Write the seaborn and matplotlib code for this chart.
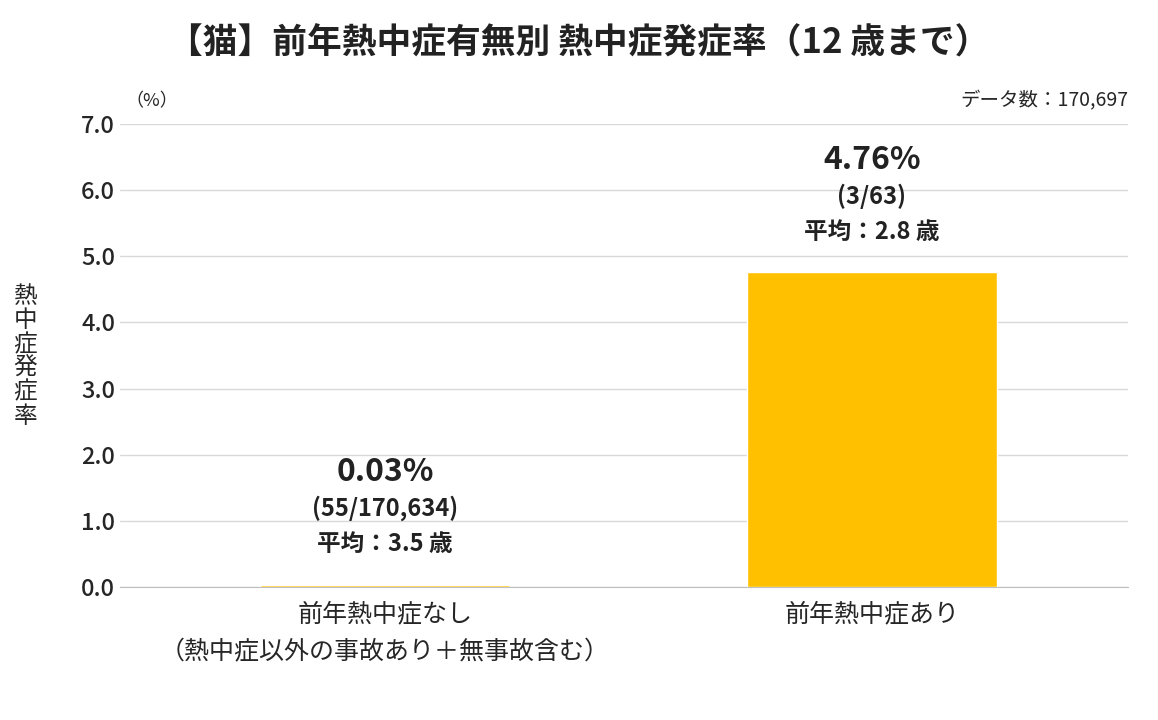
import matplotlib
matplotlib.use("Agg")
import matplotlib.pyplot as plt
import seaborn as sns
import pandas as pd

categories = ["前年熱中症なし\n（熱中症以外の事故あり＋無事故含む）", "前年熱中症あり"]
rates = [0.03, 4.76]
counts = ["(55/170,634)", "(3/63)"]
mean_age = ["平均：3.5 歳", "平均：2.8 歳"]

sns.set_style("white")
plt.rcParams['font.family'] = ['Noto Sans CJK JP', 'DejaVu Sans']

df = pd.DataFrame({"cat": categories, "rate": rates})

fig = plt.figure(figsize=(11.58, 7.2), dpi=100)
ax = fig.add_axes([0.1036, 0.1847, 0.8705, 0.6431])
sns.barplot(data=df, x="cat", y="rate", color="#FFC000", saturation=1, width=0.513, ax=ax, zorder=3)

ax.set_ylim(0, 7)
ax.set_xlim(-0.544, 1.526)
ax.set_yticks([i * 1.0 for i in range(8)])
ax.set_yticklabels([f"{i:.1f}" for i in range(8)], fontsize=17, fontweight="medium")
ax.tick_params(axis="x", labelsize=18, length=0, pad=10)
for t in ax.get_xticklabels():
    t.set_linespacing(1.6)
ax.tick_params(axis="y", length=0)
ax.grid(axis="y", color="#d9d9d9", lw=1, zorder=0)
for s in ["top", "right", "left"]:
    ax.spines[s].set_visible(False)
ax.spines["bottom"].set_color("#bfbfbf")
ax.set_xlabel("")
ax.set_ylabel("")

for i, r in enumerate(rates):
    base = max(r, 0.05)
    ax.text(i, base + 1.45, f"{r:.2f}%", ha="center", va="bottom", fontsize=23, fontweight="bold", color="#222")
    ax.text(i, base + 0.95, counts[i], ha="center", va="bottom", fontsize=17, fontweight="bold", color="#222")
    ax.text(i, base + 0.42, mean_age[i], ha="center", va="bottom", fontsize=17, fontweight="bold", color="#222")

fig.text(0.5, 0.94, "【猫】前年熱中症有無別 熱中症発症率（12 歳まで）", ha="center", va="center",
         fontsize=25, fontweight="bold", color="#222")
fig.text(0.108, 0.86, "（%）", ha="left", va="center", fontsize=13)
fig.text(0.974, 0.86, "データ数：170,697", ha="right", va="center", fontsize=14)
fig.text(0.022, 0.505, "\n".join("熱中症発症率"), ha="center", va="center", fontsize=17, linespacing=1.05)

fig.savefig("out.png", dpi=100)
